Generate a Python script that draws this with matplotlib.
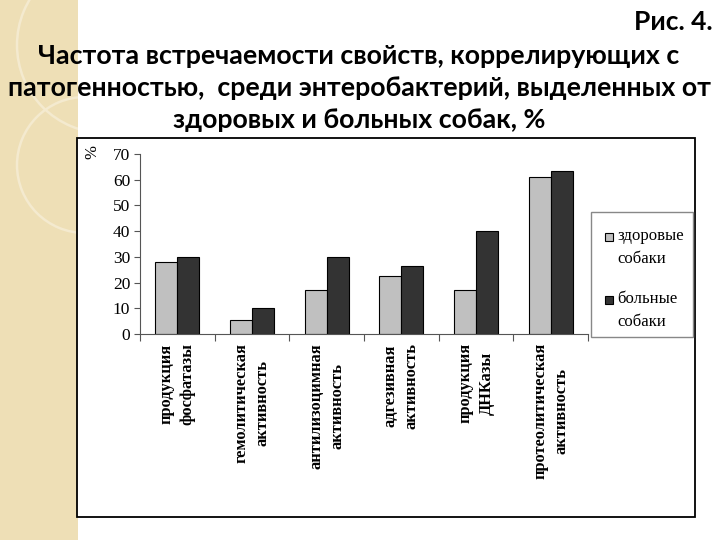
import matplotlib
matplotlib.use('Agg')
import matplotlib.pyplot as plt
from matplotlib.patches import Rectangle, Arc
import numpy as np

# data
categories = ['продукция\nфосфатазы', 'гемолитическая\nактивность',
              'антилизоцимная\nактивность', 'адгезивная\nактивность',
              'продукция\nДНКазы', 'протеолитическая\nактивность']
healthy = [28, 5.5, 17, 22.5, 17, 61]
sick = [30, 10, 30, 26.5, 40, 63.5]
series_names = ['здоровые\nсобаки', 'больные\nсобаки']
series_colors = ['#C0C0C0', '#333333']
y_ticks = [0, 10, 20, 30, 40, 50, 60, 70]

title_top = 'Рис. 4.'
title_lines = ['Частота встречаемости свойств, коррелирующих с',
               'патогенностью,  среди энтеробактерий, выделенных от',
               'здоровых и больных собак, %']

serif = ['Liberation Serif', 'DejaVu Serif']
title_font = ['Lato', 'Open Sans', 'DejaVu Sans']

fig = plt.figure(figsize=(7.2, 5.4), dpi=100)
fig.patch.set_facecolor('white')

# slide background in pixel coordinates
bg = fig.add_axes([0, 0, 1, 1], zorder=-1)
bg.set_xlim(0, 720)
bg.set_ylim(540, 0)
bg.axis('off')
strip = Rectangle((0, 0), 78, 540, facecolor='#EEDFB6', edgecolor='none')
bg.add_patch(strip)
for cx, cy, r in [(105, 45, 88), (85, 165, 68)]:
    arc = Arc((cx, cy), 2 * r, 2 * r, color='#F4EACF', lw=1.8)
    bg.add_patch(arc)
    arc.set_clip_path(strip)
bg.add_patch(Rectangle((77, 138), 618, 379, facecolor='white',
                       edgecolor='black', lw=1.3))

# titles
bg.text(713, 22, title_top, ha='right', va='center', fontsize=19,
        fontweight='bold', family=title_font)
for txt, y in zip(title_lines, [56, 88, 120]):
    bg.text(359, y, txt, ha='center', va='center', fontsize=19.3,
            fontweight='bold', family=title_font)

# chart
ax = fig.add_axes([140 / 720, 1 - 334 / 540, 448 / 720, 180 / 540])
x = np.arange(len(categories))
w = 0.295
ax.bar(x - w / 2, healthy, w, color=series_colors[0], edgecolor='black', lw=0.8)
ax.bar(x + w / 2, sick, w, color=series_colors[1], edgecolor='black', lw=0.8)

ax.set_xlim(-0.5, len(categories) - 0.5)
ax.set_ylim(0, 70)
ax.set_yticks(y_ticks)
ax.set_yticklabels([str(t) for t in y_ticks], family=serif, fontsize=12.5)
ax.set_xticks(np.arange(len(categories) + 1) - 0.5)
ax.set_xticklabels([])
ax.tick_params(axis='x', length=5, color='#555555')
ax.tick_params(axis='y', length=4, color='#555555', pad=3)
for s in ['top', 'right']:
    ax.spines[s].set_visible(False)
for s in ['left', 'bottom']:
    ax.spines[s].set_color('#555555')

for i, lab in enumerate(categories):
    ax.text(i, -3.5, lab, rotation=90, ha='center', va='top',
            multialignment='center', family=serif, fontsize=11.8,
            fontweight='bold', linespacing=1.4,
            transform=ax.transData)

bg.text(92, 152, '%', rotation=90, ha='center', va='center',
        family=serif, fontsize=12)

# legend box, drawn like the original (marker beside the first line)
bg.add_patch(Rectangle((591, 212), 102, 125, facecolor='white',
                       edgecolor='#888888', lw=1.0))
for name, color, y in zip(series_names, series_colors, [237, 300]):
    bg.add_patch(Rectangle((605, y - 4), 8, 8, facecolor=color,
                           edgecolor='black', lw=0.8))
    bg.text(617, y - 9, name, ha='left', va='top', family=serif,
            fontsize=12, linespacing=1.55)

fig.savefig('out.png', dpi=100)
